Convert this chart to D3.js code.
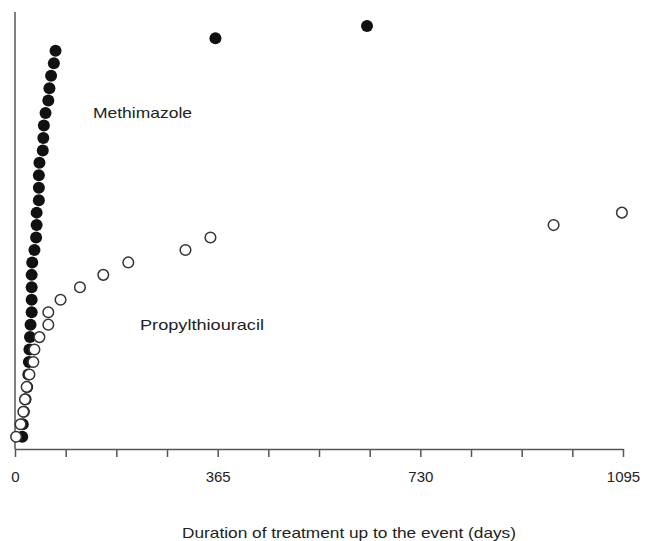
<!DOCTYPE html>
<html>
<head>
<meta charset="utf-8">
<script src="https://cdn.jsdelivr.net/npm/d3@7"></script>
<style>
  body { margin: 0; background: #fff; }
  svg text { font-family: "Liberation Sans", Arial, sans-serif; fill: #222; }
  .xAxis path, .xAxis line { stroke: #555; stroke-width: 1.5; }
  .xAxis text { font-size: 15px; fill: #222; font-family: "Liberation Sans", Arial, sans-serif; }
</style>
</head>
<body>
<div id="chart"></div>
<script>

// days until the event, ordered by rank (1 = earliest)
var methimazoleDays = [13, 14, 16, 19, 22, 24, 25, 26, 27, 28, 30, 30, 30, 30, 31, 35, 38, 39, 39,
                       43, 43, 43, 44, 50, 51, 52, 55, 60, 62, 65, 70, 73, 361, 634];
var ptuDays = [2, 10, 15, 18, 21, 26, 33, 35, 44, 60, 60, 82, 117, 159, 204, 307, 352, 970, 1093];
var majorTicks = [0, 365, 730, 1095];
var minorTicks = d3.range(0, 1095.1, 91.25);

var width = 646, height = 541;
var margin = { left: 15, right: 23, top: 12, bottom: 92 };

var svg = d3.select("#chart")
    .append("svg")
    .attr("width", width)
    .attr("height", height);

var xScale = d3.scaleLinear()
    .domain([0, 1095])
    .range([margin.left, width - margin.right]);

var yScale = d3.scaleLinear()
    .domain([1, 34])
    .range([436.7, 25.9]);

var axisY = height - margin.bottom;

var xAxis = d3.axisBottom(xScale)
    .tickValues(minorTicks)
    .tickSizeInner(8)
    .tickSizeOuter(0)
    .tickPadding(14)
    .tickFormat(function(d) { return majorTicks.indexOf(d) >= 0 ? d : ""; });

svg.append("g")
    .attr("class", "xAxis")
    .attr("transform", "translate(0," + axisY + ")")
    .call(xAxis);

svg.append("line")
    .attr("x1", xScale(0))
    .attr("x2", xScale(0))
    .attr("y1", margin.top)
    .attr("y2", axisY)
    .attr("stroke", "#555")
    .attr("stroke-width", 1.5);

// filled first, open circles sit on top of them
svg.selectAll(".mmi")
    .data(methimazoleDays).enter()
    .append("circle")
    .attr("class", "mmi")
    .attr("cx", function(d) { return xScale(d); })
    .attr("cy", function(d, i) { return yScale(i + 1); })
    .attr("r", 6)
    .attr("fill", "#111");

svg.selectAll(".ptu")
    .data(ptuDays).enter()
    .append("circle")
    .attr("class", "ptu")
    .attr("cx", function(d) { return xScale(d); })
    .attr("cy", function(d, i) { return yScale(i + 1); })
    .attr("r", 5.3)
    .attr("fill", "#fff")
    .attr("stroke", "#333")
    .attr("stroke-width", 1.5);

svg.append("text")
    .attr("x", 93)
    .attr("y", 118)
    .attr("textLength", 99)
    .attr("lengthAdjust", "spacingAndGlyphs")
    .style("font-size", "15px")
    .text("Methimazole");

svg.append("text")
    .attr("x", 140)
    .attr("y", 330)
    .attr("textLength", 124)
    .attr("lengthAdjust", "spacingAndGlyphs")
    .style("font-size", "15px")
    .text("Propylthiouracil");

svg.append("text")
    .attr("x", 182)
    .attr("y", 538)
    .attr("textLength", 334)
    .attr("lengthAdjust", "spacingAndGlyphs")
    .style("font-size", "15px")
    .text("Duration of treatment up to the event (days)");

</script>
</body>
</html>
